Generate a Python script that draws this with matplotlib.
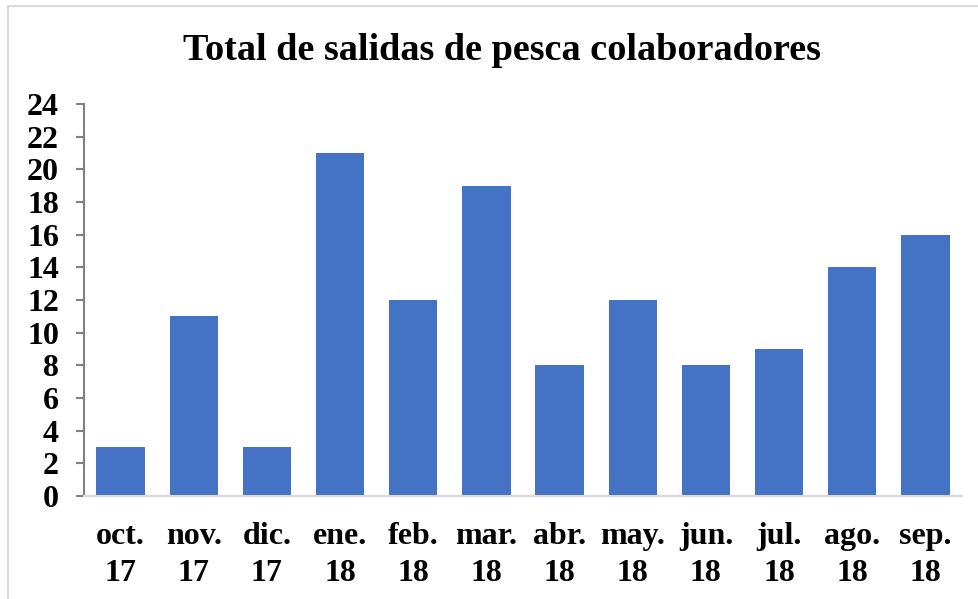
import matplotlib
matplotlib.use("Agg")
import matplotlib.pyplot as plt
from matplotlib.patches import Rectangle

months = ["oct.\n17", "nov.\n17", "dic.\n17", "ene.\n18", "feb.\n18", "mar.\n18",
          "abr.\n18", "may.\n18", "jun.\n18", "jul.\n18", "ago.\n18", "sep.\n18"]
salidas = [3, 11, 3, 21, 12, 19, 8, 12, 8, 9, 14, 16]
yticks = list(range(0, 25, 2))

plt.rcParams['font.family'] = ['Liberation Serif', 'DejaVu Serif']
plt.rcParams['font.weight'] = 'bold'

W, H = 979, 599
fig = plt.figure(figsize=(W / 100, H / 100), dpi=100)
fig.patch.set_facecolor('white')

# outer frame
fig.patches.append(Rectangle((8 / W, -0.05), 1.2, 1 - 6 / H + 0.05, transform=fig.transFigure,
                             fill=False, edgecolor='#d9d9d9', linewidth=1.5))

ax = fig.add_axes([84 / W, 1 - 496 / H, (962 - 84) / W, (496 - 104) / H])
x = range(len(months))
ax.bar(x, salidas, width=0.66, color='#4472C4', zorder=2)
ax.set_xlim(-0.5, len(months) - 0.5)
ax.set_ylim(0, 24)
ax.set_yticks(yticks)
ax.set_yticklabels([str(t) for t in yticks], fontsize=23, fontweight='bold')
ax.set_xticks(list(x))
ax.set_xticklabels(months, fontsize=23, fontweight='bold', linespacing=1.36)

for s in ['top', 'right']:
    ax.spines[s].set_visible(False)
ax.spines['left'].set_color('#808080')
ax.spines['left'].set_linewidth(1.5)
ax.spines['bottom'].set_color('#d9d9d9')
ax.spines['bottom'].set_linewidth(1.5)
ax.tick_params(axis='y', direction='out', length=6, width=1.5, color='#808080', pad=12)
ax.tick_params(axis='x', length=0, pad=19)

fig.text(502 / W, 1 - 50 / H, "Total de salidas de pesca colaboradores",
         ha='center', va='center', fontsize=27.5, fontweight='bold')

fig.savefig("out.png", dpi=100)
